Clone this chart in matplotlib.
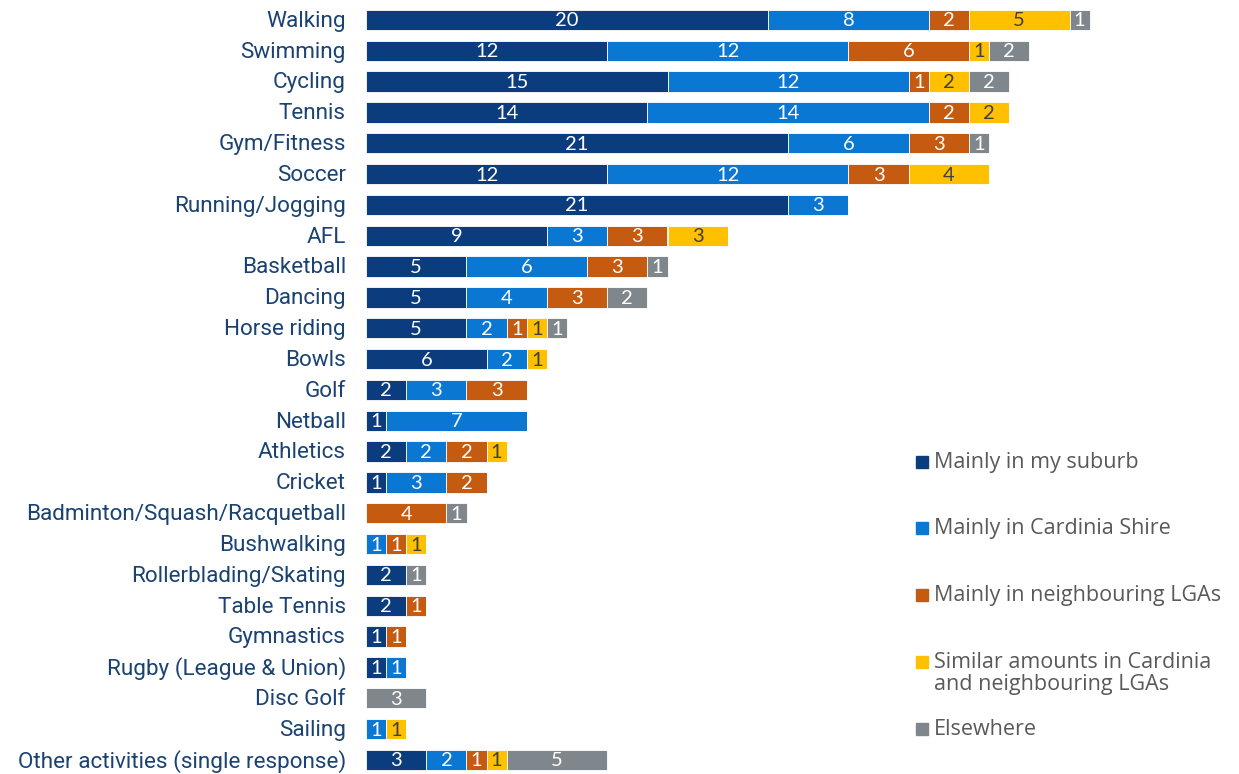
import matplotlib
matplotlib.use("Agg")
import matplotlib.pyplot as plt
from matplotlib import font_manager
from matplotlib.patches import Rectangle
import numpy as np

categories = ["Walking", "Swimming", "Cycling", "Tennis", "Gym/Fitness", "Soccer",
              "Running/Jogging", "AFL", "Basketball", "Dancing", "Horse riding", "Bowls",
              "Golf", "Netball", "Athletics", "Cricket", "Badminton/Squash/Racquetball",
              "Bushwalking", "Rollerblading/Skating", "Table Tennis", "Gymnastics",
              "Rugby (League & Union)", "Disc Golf", "Sailing",
              "Other activities (single response)"]

my_suburb = [20, 12, 15, 14, 21, 12, 21, 9, 5, 5, 5, 6, 2, 1, 2, 1, 0, 0, 2, 2, 1, 1, 0, 0, 3]
cardinia  = [8, 12, 12, 14, 6, 12, 3, 3, 6, 4, 2, 2, 3, 7, 2, 3, 0, 1, 0, 0, 0, 1, 0, 1, 2]
neighbour = [2, 6, 1, 2, 3, 3, 0, 3, 3, 3, 1, 0, 3, 0, 2, 2, 4, 1, 0, 1, 1, 0, 0, 0, 1]
similar   = [5, 1, 2, 2, 0, 4, 0, 3, 0, 0, 1, 1, 0, 0, 1, 0, 0, 1, 0, 0, 0, 0, 0, 1, 1]
elsewhere = [1, 2, 2, 0, 1, 0, 0, 0, 1, 2, 1, 0, 0, 0, 0, 0, 1, 0, 1, 0, 0, 0, 3, 0, 5]

series_names = ["Mainly in my suburb", "Mainly in Cardinia Shire", "Mainly in neighbouring LGAs",
                "Similar amounts in Cardinia\nand neighbouring LGAs", "Elsewhere"]
series = [my_suburb, cardinia, neighbour, similar, elsewhere]
colors = ["#0B3D7E", "#0A77D3", "#C55A11", "#FFC000", "#7F868C"]
label_colors = ["white", "white", "white", "#404040", "white"]

avail = {f.name for f in font_manager.fontManager.ttflist}
cond = "Roboto" if "Roboto" in avail else "DejaVu Sans"
main_font = "Lato" if "Lato" in avail else "DejaVu Sans"
leg_font = "Open Sans" if "Open Sans" in avail else main_font

W, H = 1239, 774
fig = plt.figure(figsize=(W / 100, H / 100), dpi=100)
unit = 20.1
left_px = 366
ax = fig.add_axes([left_px / W, 0, 1 - left_px / W, 1])
ax.set_xlim(0, (W - left_px) / unit)
row0 = 20
step = 30.83
ax.set_ylim((H - row0) / step, -row0 / step)
ax.axis("off")

y = np.arange(len(categories))
left = np.zeros(len(categories))
for vals, c, lc in zip(series, colors, label_colors):
    vals = np.array(vals, dtype=float)
    ax.barh(y, vals, left=left, height=0.66, color=c, edgecolor="white",
            linewidth=0.6, clip_on=False)
    for yi, (l, v) in enumerate(zip(left, vals)):
        if v > 0:
            ax.text(l + v / 2, yi + 0.03, f"{int(v)}", ha="center", va="center",
                    color=lc, fontsize=14.5, family=main_font)
    left += vals

for yi, cat in enumerate(categories):
    ax.text(-1.0, yi - 0.04, cat, ha="right", va="center_baseline", color="#1A4272",
            fontsize=16.2, family=cond, clip_on=False)

# legend
leg_y = [462, 528, 595, 662, 729]
for name, c, py in zip(series_names, colors, leg_y):
    fig.patches.append(Rectangle((916 / W, 1 - (py + 6) / H), 12 / W, 12 / H,
                                 transform=fig.transFigure, color=c))
    fig.text(934 / W, 1 - (py - 10) / H, name, ha="left", va="top",
             color="#595959", fontsize=15.5, family=leg_font, linespacing=1.05)

fig.savefig("out.png", dpi=100)
